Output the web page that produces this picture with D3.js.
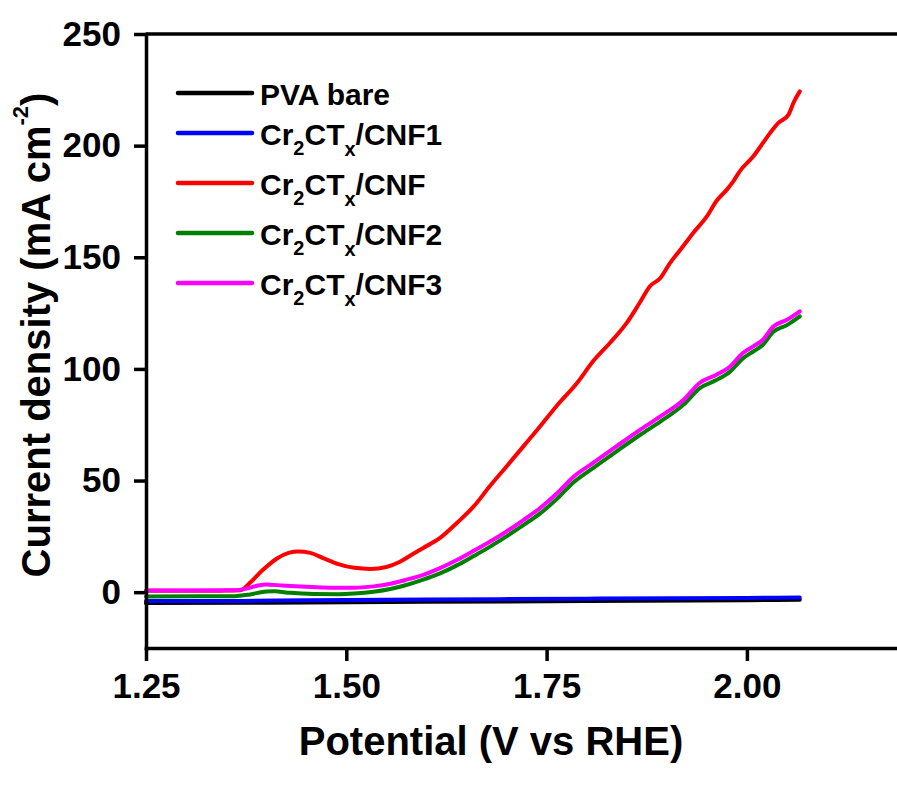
<!DOCTYPE html>
<html>
<head>
<meta charset="utf-8">
<script src="https://cdn.jsdelivr.net/npm/d3@7/dist/d3.min.js"></script>
<style>
  html, body { margin: 0; padding: 0; background: #fff; }
  svg { display: block; font-family: "Liberation Sans", Arial, Helvetica, sans-serif; font-weight: bold; }
</style>
</head>
<body>
<svg id="chart" width="897" height="785"></svg>
<script>
// LSV curves: potential (V vs RHE) and current density (mA cm^-2)
const potBare = [1.25, 1.40, 1.60, 1.80, 2.00, 2.066];
const jBare   = [-4.9, -4.7, -4.3, -4.0, -3.6, -3.4];

const potCNF1 = [1.25, 1.37, 1.45, 1.60, 1.80, 2.00, 2.066];
const jCNF1   = [-4.0, -3.9, -3.6, -3.3, -2.9, -2.6, -2.4];

const potCNF = [1.25, 1.30, 1.35, 1.368, 1.38, 1.396, 1.413, 1.428, 1.44, 1.455, 1.471, 1.49, 1.51, 1.53,
  1.55, 1.567, 1.58, 1.596, 1.617, 1.638, 1.659, 1.679, 1.700, 1.721, 1.742, 1.763, 1.788, 1.808, 1.829,
  1.850, 1.866, 1.879, 1.892, 1.904, 1.917, 1.933, 1.950, 1.962, 1.975, 1.983, 1.991, 2.008, 2.020,
  2.029, 2.039, 2.052, 2.058, 2.066];
const jCNF = [0.6, 0.6, 0.7, 0.9, 4.3, 10.0, 15.0, 17.6, 18.2, 17.6, 15.3, 12.6, 10.9, 10.4,
  11.3, 13.6, 16.4, 19.8, 24.3, 31.0, 38.4, 47.4, 56.3, 65.3, 74.3, 83.6, 93.7, 103.4, 111.6,
  120.6, 129.5, 137.0, 140.7, 147.4, 153.4, 160.9, 168.3, 175.2, 180.3, 184.0, 188.5, 195.2, 201.2,
  205.7, 210.1, 213.9, 219.1, 224.3];

const potCNF2 = [1.25, 1.36, 1.38, 1.40, 1.41, 1.43, 1.46, 1.49, 1.51, 1.534, 1.555, 1.575, 1.596, 1.617,
  1.638, 1.658, 1.679, 1.700, 1.721, 1.742, 1.763, 1.783, 1.808, 1.837, 1.867, 1.892, 1.921, 1.941,
  1.962, 1.979, 1.995, 2.008, 2.020, 2.033, 2.050, 2.066];
const jCNF2 = [-1.9, -1.8, -1.0, 0.3, 0.4, -0.3, -0.8, -0.9, -0.6, 0.2, 1.4, 3.2, 5.6, 8.4,
  12.0, 16.0, 20.3, 25.0, 30.0, 35.3, 41.8, 49.0, 55.6, 63.0, 70.5, 76.4, 84.0, 91.3,
  95.0, 98.8, 104.7, 107.8, 110.8, 116.6, 119.6, 123.5];

const potCNF3 = [1.25, 1.30, 1.36, 1.375, 1.39, 1.40, 1.42, 1.45, 1.48, 1.51, 1.534, 1.555, 1.575, 1.596,
  1.617, 1.638, 1.658, 1.679, 1.700, 1.721, 1.742, 1.763, 1.783, 1.808, 1.837, 1.867, 1.892, 1.921,
  1.941, 1.962, 1.979, 1.995, 2.008, 2.020, 2.033, 2.050, 2.066];
const jCNF3 = [0.8, 0.8, 0.9, 1.6, 3.0, 3.4, 3.0, 2.4, 2.0, 2.0, 2.6, 3.8, 5.6, 7.8,
  10.8, 14.4, 18.3, 22.6, 27.2, 32.3, 37.7, 44.3, 51.5, 57.9, 65.3, 72.8, 78.7, 86.2,
  93.7, 97.4, 101.1, 107.1, 110.1, 113.1, 119.0, 122.0, 125.8];

const xTicks = [1.25, 1.50, 1.75, 2.00];
const yTicks = [0, 50, 100, 150, 200, 250];

const seriesNames  = ["PVA bare", "Cr2CTx/CNF1", "Cr2CTx/CNF", "Cr2CTx/CNF2", "Cr2CTx/CNF3"];
const seriesColors = ["#000000", "#0000ff", "#ff0000", "#008000", "#ff00ff"];
const seriesPot = [potBare, potCNF1, potCNF, potCNF2, potCNF3];
const seriesJ   = [jBare, jCNF1, jCNF, jCNF2, jCNF3];

const svg = d3.select("#chart");
const plotLeft = 146, plotTop = 34, plotBottom = 648;

const x = d3.scaleLinear().domain([1.25, 2.2]).range([plotLeft, plotLeft + 0.95 * 801.2]);
const y = d3.scaleLinear().domain([-25, 250]).range([plotBottom, plotTop]);

svg.append("rect").attr("width", 897).attr("height", 785).attr("fill", "#fff");

// curves
const line = d3.line()
  .x(d => x(d[0]))
  .y(d => y(d[1]))
  .curve(d3.curveMonotoneX);

seriesNames.forEach((name, i) => {
  const pts = seriesPot[i].map((p, k) => [p, seriesJ[i][k]]);
  svg.append("path")
    .datum(pts)
    .attr("d", line)
    .attr("fill", "none")
    .attr("stroke", seriesColors[i])
    .attr("stroke-width", 4)
    .attr("stroke-linejoin", "round")
    .attr("stroke-linecap", "round");
});

// axes
const axisStroke = 3.5;
const xAxis = svg.append("g")
  .attr("transform", `translate(0,${plotBottom})`)
  .call(d3.axisBottom(x).tickValues(xTicks).tickFormat(d3.format(".2f")).tickSize(13).tickSizeOuter(0).tickPadding(12));
const yAxis = svg.append("g")
  .attr("transform", `translate(${plotLeft},0)`)
  .call(d3.axisLeft(y).tickValues(yTicks).tickSize(12).tickSizeOuter(0).tickPadding(13));

[xAxis, yAxis].forEach(g => {
  g.select(".domain").attr("stroke", "#000").attr("stroke-width", axisStroke).attr("stroke-linecap", "square");
  g.selectAll(".tick line").attr("stroke", "#000").attr("stroke-width", axisStroke);
  g.selectAll(".tick text")
    .attr("fill", "#000")
    .style("font-family", "'Liberation Sans', Arial, sans-serif")
    .style("font-weight", "bold")
    .style("font-size", "35px");
});

// top frame line
svg.append("line")
  .attr("x1", plotLeft).attr("x2", x(2.2))
  .attr("y1", plotTop).attr("y2", plotTop)
  .attr("stroke", "#000").attr("stroke-width", axisStroke);

// axis titles
svg.append("text")
  .attr("x", 491).attr("y", 755)
  .attr("text-anchor", "middle")
  .style("font-size", "40px")
  .text("Potential (V vs RHE)");

const yTitle = svg.append("text")
  .attr("transform", "translate(50,335) rotate(-90)")
  .attr("text-anchor", "middle")
  .style("font-size", "40px");
yTitle.append("tspan").text("Current density (mA cm");
yTitle.append("tspan").attr("dy", -22).style("font-size", "22px").text("-2");
yTitle.append("tspan").attr("dy", 22).text(")");

// legend
const legend = svg.append("g");
seriesNames.forEach((name, i) => {
  const ly = i === 0 ? 93 : 133 + (i - 1) * 50;
  legend.append("line")
    .attr("x1", 178).attr("x2", 252)
    .attr("y1", ly).attr("y2", ly)
    .attr("stroke", seriesColors[i])
    .attr("stroke-width", 4.5)
    .attr("stroke-linecap", "round");
  const t = legend.append("text")
    .attr("x", 260).attr("y", ly + 11.5)
    .style("font-size", "30px");
  if (name.startsWith("Cr2CTx")) {
    t.append("tspan").text("Cr");
    t.append("tspan").attr("dy", 10).style("font-size", "20px").text("2");
    t.append("tspan").attr("dy", -10).text("CT");
    t.append("tspan").attr("dy", 11).style("font-size", "20px").text("x");
    t.append("tspan").attr("dy", -11).text(name.slice(6));
  } else {
    t.text(name);
  }
});
</script>
</body>
</html>
